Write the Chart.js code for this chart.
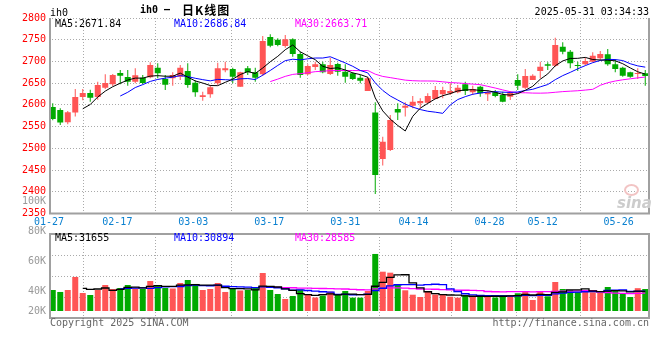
<!DOCTYPE html>
<html>
<head>
<meta charset="utf-8">
<script src="https://cdn.jsdelivr.net/npm/chart.js@4.4.1/dist/chart.umd.min.js"></script>
<style>
  html, body { margin: 0; padding: 0; background: #fff; }
  #wrap { position: relative; width: 660px; height: 360px; overflow: hidden;
          font-family: 'DejaVu Sans Mono', monospace; font-size: 10px; line-height: 10px; }
  #wrap canvas { position: absolute; left: 0; }
  .t { position: absolute; white-space: pre; }
  #eye { position: absolute; left: 624px; top: 184px; width: 11px; height: 8px;
         border: 2px solid #f2c4c4; border-radius: 50%; }
</style>
</head>
<body>
<div id="wrap">
  <canvas id="kline" width="660" height="230" style="top:0"></canvas>
  <canvas id="vol" width="660" height="165" style="top:195px"></canvas>
  <div id="eye"></div>
</div>
<script>
// 日K线 데이터
const dates = ['01-27','02-05','02-06','02-07','02-10','02-11','02-12','02-13','02-14',
  '02-17','02-18','02-19','02-20','02-21','02-24','02-25','02-26','02-27','02-28',
  '03-03','03-04','03-05','03-06','03-07','03-10','03-11','03-12','03-13','03-14',
  '03-17','03-18','03-19','03-20','03-21','03-24','03-25','03-26','03-27','03-28',
  '03-31','04-01','04-02','04-03','04-07','04-08','04-09','04-10','04-11',
  '04-14','04-15','04-16','04-17','04-18','04-21','04-22','04-23','04-24','04-25',
  '04-28','04-29','04-30','05-06','05-07','05-08','05-09',
  '05-12','05-13','05-14','05-15','05-16','05-19','05-20','05-21','05-22','05-23',
  '05-26','05-27','05-28','05-29','05-30'];

const openP = [2595,2588.3,2559.9,2582.2,2618.2,2627.4,2618.2,2639.7,2647.4,2673.4,
  2664.2,2653.5,2662.7,2663.5,2685.7,2659.6,2661.2,2665,2678,2651.2,
  2618.2,2624.4,2649.7,2679.6,2682.6,2642,2684.2,2675,2670.4,2756.3,
  2750.1,2735.6,2750.9,2717.2,2670.4,2687.2,2693.4,2671.1,2694.2,2676.5,
  2672.7,2662.7,2632,2582.2,2475.5,2496.3,2590.6,2593.7,2598.3,2603.6,
  2605.2,2613.6,2624.4,2626.7,2628.9,2647.4,2628.9,2642,2624.4,2628.9,
  2622.8,2619,2657.3,2639.7,2657.3,2678,2693.4,2690.3,2734,2722.5,
  2691.9,2693.4,2699.5,2707.2,2716.4,2693.4,2685.7,2675,2671.1,2672.7];

const highP = [2603.6,2592.1,2586,2636.6,2636.6,2635,2653.5,2670.4,2671.1,2680.3,
  2680.3,2684.2,2668.9,2698,2695.7,2668.9,2675,2691.9,2695.7,2656.6,
  2630.5,2645.8,2697.2,2699.5,2685.7,2676.5,2689.6,2685.7,2758.6,2762.4,
  2753.2,2760.9,2753.2,2722.5,2693.4,2699.5,2699.5,2708.7,2697.2,2693.4,
  2675,2668.9,2665,2605.9,2526.9,2576.8,2603.6,2605.9,2620.5,2615.2,
  2626.7,2643.5,2642,2649.7,2645.8,2653.5,2644.3,2644.3,2634.3,2634.3,
  2630.5,2632,2670.4,2682.6,2670.4,2699.5,2698,2754.7,2744,2726.4,
  2699.5,2708.7,2721,2724,2728.7,2705.6,2688,2676.5,2684.2,2680.3];

const lowP = [2564.5,2553.8,2555.3,2573,2610.5,2607.5,2612,2636.6,2643.5,2647.4,
  2644.3,2649.7,2647.4,2661.2,2661.2,2634.3,2644.3,2657.3,2639.7,2619,
  2609.8,2616.7,2645.8,2675,2649.7,2642,2668.9,2653.5,2666.5,2732.5,
  2734.8,2731.7,2711,2662.7,2668.9,2680.3,2672.7,2668.9,2667.3,2651.2,
  2657.3,2649.7,2632,2395,2460.2,2494,2565.3,2573,2592.1,2593.7,
  2603.6,2612.9,2615.2,2622.8,2626.7,2622.8,2622.8,2619,2609,2617.4,
  2605.9,2611.3,2634.3,2636.6,2657.3,2661.2,2680.3,2688,2716.4,2684.2,
  2678,2691.9,2698,2703.3,2690.3,2675,2665,2662.7,2659.6,2644.3];

const closeP = [2567.6,2559.2,2582.9,2618.2,2627.4,2616.7,2645.8,2650.4,2668.9,2667.3,
  2653.5,2668.1,2650.4,2691.9,2672.7,2646.6,2668.9,2685.7,2645.8,2628.9,
  2622,2640.5,2684.2,2684.2,2665,2675,2675,2662.7,2747,2736.3,
  2737.9,2750.9,2717.2,2668.9,2689.6,2693.4,2675,2691.9,2676.5,2665,
  2659.6,2655.8,2661.2,2438.7,2515.4,2565.3,2582.2,2598.3,2607.5,2609,
  2620.5,2634.3,2634.3,2632,2639.7,2632,2636.6,2626.7,2628.9,2620.5,
  2607.5,2628.9,2644.3,2666.5,2667.3,2688,2690.3,2737.9,2722.5,2695.7,
  2689.6,2701,2713.3,2717.2,2693.4,2682.6,2667.3,2665,2672.7,2666.5];

const volume = [33900,30700,33900,54900,29000,25800,33900,41900,35500,37100,
  41900,36300,35500,48400,41900,37100,36300,45200,50000,43600,
  33900,35500,45200,30700,35500,33100,33900,37100,61300,33900,
  27400,19400,24200,34700,25800,21800,25000,31200,25800,32300,
  21500,21500,32300,92000,63400,61800,41900,33400,26300,22600,
  31200,26600,25800,23000,21500,25800,23000,25800,22600,21800,
  25800,25800,28600,31200,17700,31200,23700,46800,35500,33900,
  31000,31200,30200,29800,38700,33900,29000,22600,36800,35500];

// 축 눈금 / 범례 텍스트
const dateTicks = ['01-27','02-17','03-03','03-17','03-31','04-14','04-28','05-12','05-26'];
const volAxisLabels = ['100K','80K','60K','40K','20K'];
const maPeriods = [5, 10, 30];
const priceMaLast = ['2671.84','2686.84','2663.71'];
const volMaLast = ['31655','30894','28585'];

const UP = '#ff5555', DOWN = '#00aa00';
const MA_COLORS = ['#000000', '#0000ff', '#ff00ff'];
const GRID = '#aaaaaa', FRAME = '#a0a0a0';
const MONO = "'DejaVu Sans Mono', monospace";

const tickIdx = dateTicks.map(d => dates.indexOf(d));
const candleColors = closeP.map((c, i) => c >= openP[i] ? UP : DOWN);

// 이동평균 (앞부분은 데이터 부족으로 비움)
function movingAvg(arr, n) {
  return arr.map((_, i) => {
    if (i < n - 1) return null;
    let s = 0;
    for (let k = i - n + 1; k <= i; k++) s += arr[k];
    return s / n;
  });
}

// 패널 테두리: 좌/우/아래 실선, 필요하면 위도
const framePlugin = {
  id: 'frame',
  afterDraw(chart, args, opts) {
    const { ctx, chartArea: a } = chart;
    ctx.save();
    ctx.strokeStyle = FRAME;
    ctx.lineWidth = 2;
    ctx.beginPath();
    if (opts.top) { ctx.moveTo(a.left, a.top); ctx.lineTo(a.right + 1, a.top); }
    ctx.moveTo(a.left + 1, a.top); ctx.lineTo(a.left + 1, a.bottom);
    ctx.moveTo(a.right, a.top); ctx.lineTo(a.right, a.bottom + 1);
    ctx.moveTo(a.left, a.bottom); ctx.lineTo(a.right + 1, a.bottom);
    ctx.stroke();
    ctx.restore();
  }
};

// 날짜 격자선용 선형 x축 (캔들 카테고리축과 따로)
function dateAxis(showLabels) {
  return {
    type: 'linear', position: 'bottom', min: 0, max: dates.length - 1, offset: false,
    afterBuildTicks(ax) { ax.ticks = tickIdx.map(v => ({ value: v })); },
    afterFit(s) { s.height = showLabels ? 16.5 : 0; },
    grid: { color: GRID, lineWidth: 1, drawTicks: false },
    border: { display: false, dash: [1, 2] },
    ticks: {
      display: showLabels, autoSkip: false, maxRotation: 0, padding: 3,
      color: '#0a80d0', font: { family: MONO, size: 10 },
      callback: v => dates[v]
    }
  };
}

const catAxis = { type: 'category', display: false, offset: true, grid: { display: false } };

function maLine(data, color, width, stepped) {
  return {
    type: 'line', data, borderColor: color, borderWidth: width, pointRadius: 0,
    stepped: stepped || false, tension: 0, xAxisID: 'xc', yAxisID: 'y', order: 0
  };
}

// 가격 패널
new Chart(document.getElementById('kline'), {
  type: 'bar',
  data: {
    labels: dates,
    datasets: [
      ...maPeriods.map((n, k) => maLine(movingAvg(closeP, n), MA_COLORS[k], 1)),
      {
        data: openP.map((o, i) => [o, closeP[i]]),
        backgroundColor: candleColors, barThickness: 6, minBarLength: 1,
        grouped: false, borderWidth: 0, inflateAmount: 0,
        xAxisID: 'xc', yAxisID: 'y', order: 1
      },
      {
        data: lowP.map((l, i) => [l, highP[i]]),
        backgroundColor: candleColors, barThickness: 1,
        grouped: false, borderWidth: 0, inflateAmount: 0,
        xAxisID: 'xc', yAxisID: 'y', order: 2
      }
    ]
  },
  plugins: [framePlugin],
  options: {
    responsive: false, animation: false, events: [],
    layout: { padding: { left: 0, right: 11, top: 18, bottom: 0 } },
    plugins: { legend: { display: false }, tooltip: { enabled: false }, frame: { top: false } },
    scales: {
      xc: catAxis,
      x: dateAxis(true),
      y: {
        type: 'linear', position: 'left', min: 2350, max: 2800, beginAtZero: false,
        afterFit(s) { s.width = 49; },
        grid: { color: GRID, lineWidth: 1, drawTicks: false },
        border: { display: false, dash: [1, 2] },
        ticks: { stepSize: 50, padding: 3, color: '#ff0000',
                 font: { family: MONO, size: 10 }, callback: v => String(v) }
      }
    }
  }
});

// 成交量 패널
const volMin = -11300, volMax = 124200;
new Chart(document.getElementById('vol'), {
  type: 'bar',
  data: {
    labels: dates,
    datasets: [
      ...maPeriods.map((n, k) => maLine(movingAvg(volume, n), MA_COLORS[k], 1.3, 'middle')),
      {
        data: volume, backgroundColor: candleColors, barThickness: 6,
        grouped: false, borderWidth: 0, inflateAmount: 0,
        xAxisID: 'xc', yAxisID: 'y', order: 1
      }
    ]
  },
  plugins: [framePlugin],
  options: {
    responsive: false, animation: false, events: [],
    layout: { padding: { left: 0, right: 11, top: 39, bottom: 42 } },
    plugins: { legend: { display: false }, tooltip: { enabled: false }, frame: { top: true } },
    scales: {
      xc: catAxis,
      x: dateAxis(false),
      y: {
        type: 'linear', position: 'left', min: volMin, max: volMax, beginAtZero: false,
        afterBuildTicks(ax) {
          ax.ticks = [0, 1, 2, 3, 4].map(k => ({ value: volMin + k * (volMax - volMin) / 4 }));
        },
        afterFit(s) { s.width = 49; },
        grid: { color: GRID, lineWidth: 1, drawTicks: false },
        border: { display: false, dash: [1, 2] },
        ticks: { display: false }
      }
    }
  }
});

// 텍스트 (제목, 범례, 저작권)
const wrap = document.getElementById('wrap');
function addText(str, pos, color, extra) {
  const d = document.createElement('div');
  d.className = 't';
  d.textContent = str;
  d.style.color = color;
  Object.assign(d.style, pos, extra || {});
  wrap.appendChild(d);
  return d;
}

addText('ih0', { left: '50px', top: '7.5px' }, '#000');
addText('ih0 —', { left: '140px', top: '5px' }, '#000', { fontWeight: 'bold' });
addText('日K线图', { left: '182px', top: '3.5px' }, '#000',
  { fontFamily: "'Noto Sans CJK SC', sans-serif", fontSize: '12px', lineHeight: '12px',
    fontWeight: 'bold', letterSpacing: '1px' });
addText('2025-05-31 03:34:33', { right: '11px', top: '7px' }, '#000');

const legendX = [55, 174, 295];
maPeriods.forEach((n, k) => {
  addText('MA' + n + ':' + priceMaLast[k], { left: legendX[k] + 'px', top: '19px' }, MA_COLORS[k]);
  addText('MA' + n + ':' + volMaLast[k], { left: legendX[k] + 'px', top: '233px' }, MA_COLORS[k]);
});

const volLabelTop = [195.5, 225.5, 255.5, 285.8, 305.8];
volAxisLabels.forEach((s, k) => {
  addText(s, { right: '614px', top: volLabelTop[k] + 'px' }, '#999');
});

addText('Copyright 2025 SINA.COM', { left: '50px', top: '318px' }, '#666');
addText('http://finance.sina.com.cn', { right: '11px', top: '318px' }, '#666');

// 워터마크
addText('sina', { left: '617px', top: '196px' }, '#cccccc',
  { fontFamily: "'DejaVu Sans', sans-serif", fontSize: '15px', lineHeight: '15px',
    fontStyle: 'italic', fontWeight: 'bold' });
</script>
</body>
</html>
